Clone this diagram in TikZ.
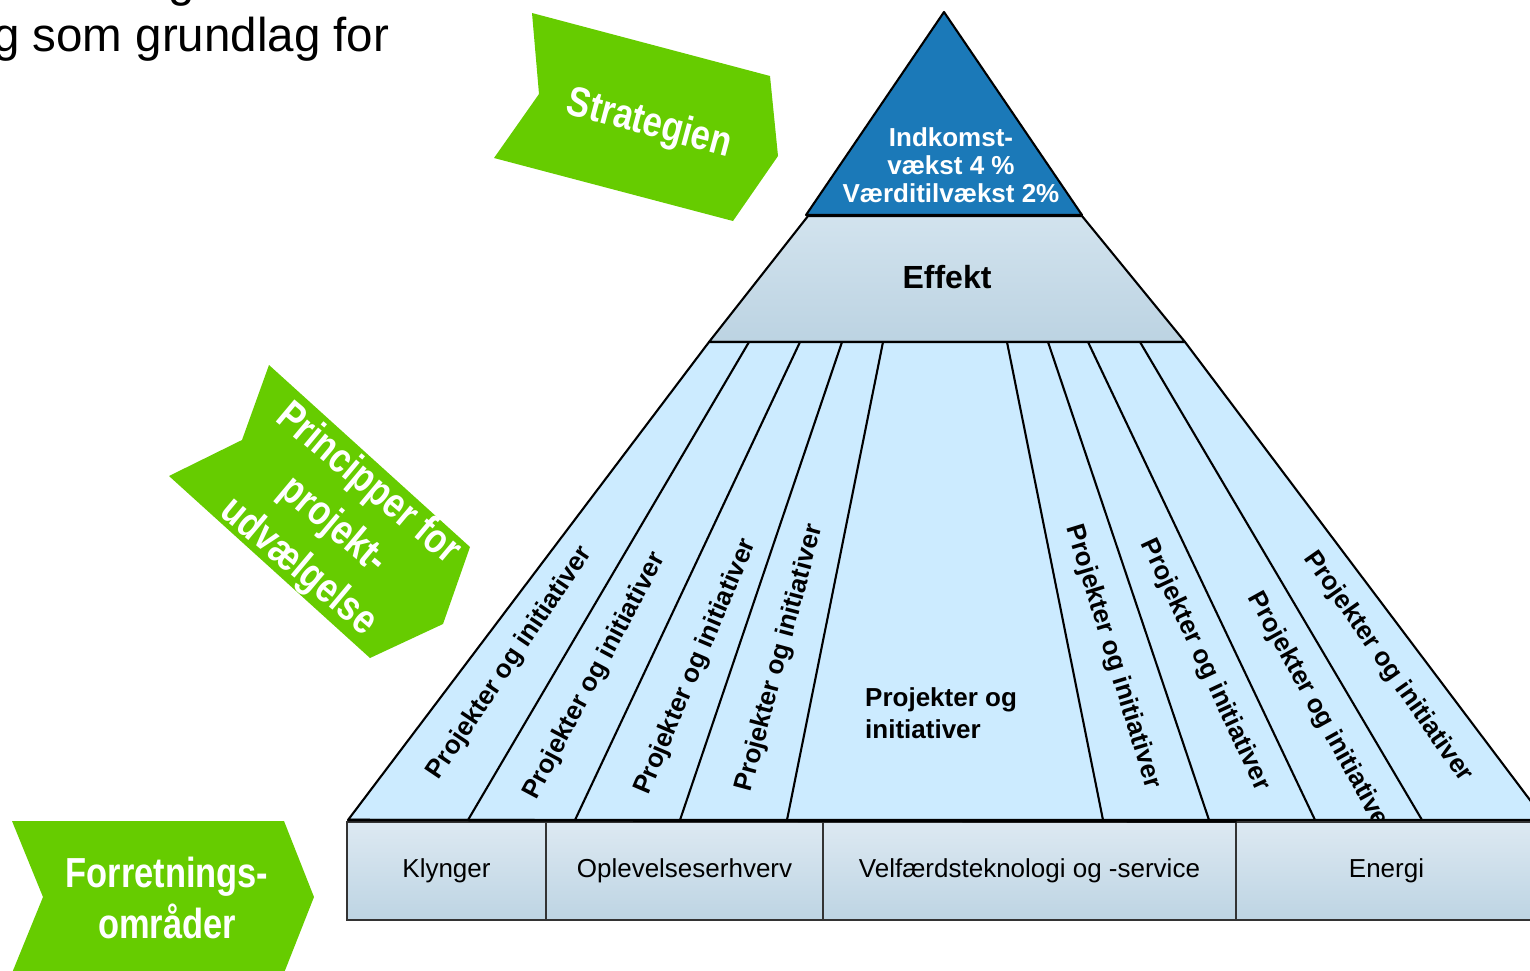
\documentclass[tikz,border=0pt]{standalone}
\usepackage{fontspec}
\setmainfont{Liberation Sans}
\newfontfamily\narrowfont[FakeStretch=0.82]{Liberation Sans}
\definecolor{apexblue}{HTML}{1B79B8}
\definecolor{stripfill}{HTML}{CCEBFF}
\definecolor{leaf}{HTML}{66CC00}
\definecolor{boxtop}{HTML}{DDE9F2}
\definecolor{boxbot}{HTML}{BDD4E3}
\definecolor{efftop}{HTML}{D2E3EE}
\definecolor{effbot}{HTML}{BCD3E2}
\tikzset{
  edge/.style={draw=black, line width=2.1pt, line join=round},
  divider/.style={draw=black, line width=2.1pt},
  area/.style={draw=black!80, line width=1.3pt, top color=boxtop, bottom color=boxbot,
    font=\fontsize{26}{28}\selectfont, inner sep=0pt},
  banner/.style={fill=leaf},
  bannertext/.style={text=white, font=\narrowfont\bfseries\fontsize{42}{51}\selectfont, align=center, inner sep=0pt},
  stripnote/.style={font=\bfseries\fontsize{26}{32}\selectfont, inner sep=0pt},
  bigtext/.style={font=\fontsize{47.5}{50}\selectfont, inner sep=0pt, anchor=base west}
}
\begin{document}
\begin{tikzpicture}[x=1pt,y=-1pt]
\useasboundingbox (0,0) rectangle (1530,970);
\clip (0,0) rectangle (1530,970);

% clipped intro text
\node[bigtext] (introprev) at (168,-4) {g};
\node[bigtext] (intro) at (-7,51) {g som grundlag for};

% green banners
\path[banner] (532,13) -- (770,76) -- (778,156) -- (733,221) -- (494,158) -- (539,94) -- cycle;
\node[bannertext, rotate=-15] (strat) at (649,125) {Strategien};

\path[banner] (269,365) -- (470,547) -- (443,624) -- (370,658) -- (169,476) -- (242,440) -- cycle;
\node[bannertext, rotate=-40, font=\narrowfont\bfseries\fontsize{42}{54}\selectfont] (princ) at (333,526) {Principper for\\projekt-\\udvælgelse};

\path[banner] (12,821) -- (284,821) -- (314,897) -- (284,973) -- (12,973) -- (43,897) -- cycle;
\node[bannertext] (forr) at (167,898) {Forretnings-\\områder};

% pyramid top
\coordinate (apex) at (944,12);
\coordinate (tl) at (806,215);
\coordinate (tr) at (1082,215);
\path[edge, fill=apexblue] (apex) -- (tr) -- (tl) -- cycle;
\node[text=white, font=\bfseries\fontsize{26}{28}\selectfont, align=center, inner sep=0pt] (goal) at (951,165)
  {Indkomst-\\vækst 4 \%\\Værditilvækst 2\%};

% effect layer
\coordinate (el) at (808,216);
\coordinate (er) at (1082,216);
\coordinate (sl) at (709,342);
\coordinate (sr) at (1185,342);
\path[edge, top color=efftop, bottom color=effbot] (el) -- (er) -- (sr) -- (sl) -- cycle;
\node[font=\bfseries\fontsize{32}{34}\selectfont, inner sep=0pt] (effekt) at (947,277) {Effekt};

% strips layer
\coordinate (bl) at (348,820);
\coordinate (br) at (1545,820);
\path[edge, fill=stripfill] (sl) -- (sr) -- (br) -- (bl) -- cycle;
\foreach \a/\b [count=\i] in {749/468, 800/575, 842/680, 883/787, 1007/1103, 1048/1209, 1088/1315, 1140/1422} {
  \coordinate (dt\i) at (\a,342);
  \coordinate (db\i) at (\b,820);
  \draw[divider] (dt\i) -- (db\i);
}

\node[stripnote, rotate=56] (s1) at (510,663) {Projekter og initiativer};
\node[stripnote, rotate=62] (s2) at (595,676) {Projekter og initiativer};
\node[stripnote, rotate=67] (s3) at (696,667) {Projekter og initiativer};
\node[stripnote, rotate=75] (s4) at (780,658) {Projekter og initiativer};
\node[stripnote, align=left, anchor=west] (s5) at (865,713) {Projekter og\\initiativer};
\node[stripnote, rotate=-73] (s6) at (1113,657) {Projekter og initiativer};
\node[stripnote, rotate=-65] (s7) at (1205,665) {Projekter og initiativer};
\node[stripnote, rotate=-61] (s8) at (1320,714) {Projekter og initiativer};
\node[stripnote, rotate=-55] (s9) at (1388,667) {Projekter og initiativer};

% business areas
\node[area, minimum width=199pt, minimum height=98pt] (klynger) at (446.5,871) {Klynger};
\node[area, minimum width=277pt, minimum height=98pt] (oplev) at (684.5,871) {Oplevelseserhverv};
\node[area, minimum width=413pt, minimum height=98pt] (velf) at (1029.5,871) {Velfærdsteknologi og -service};
\node[area, minimum width=301pt, minimum height=98pt] (energi) at (1386.5,871) {Energi};
\draw[line width=2.6pt] (bl) -- (klynger.north west -| velf.north east);
\end{tikzpicture}
\end{document}
